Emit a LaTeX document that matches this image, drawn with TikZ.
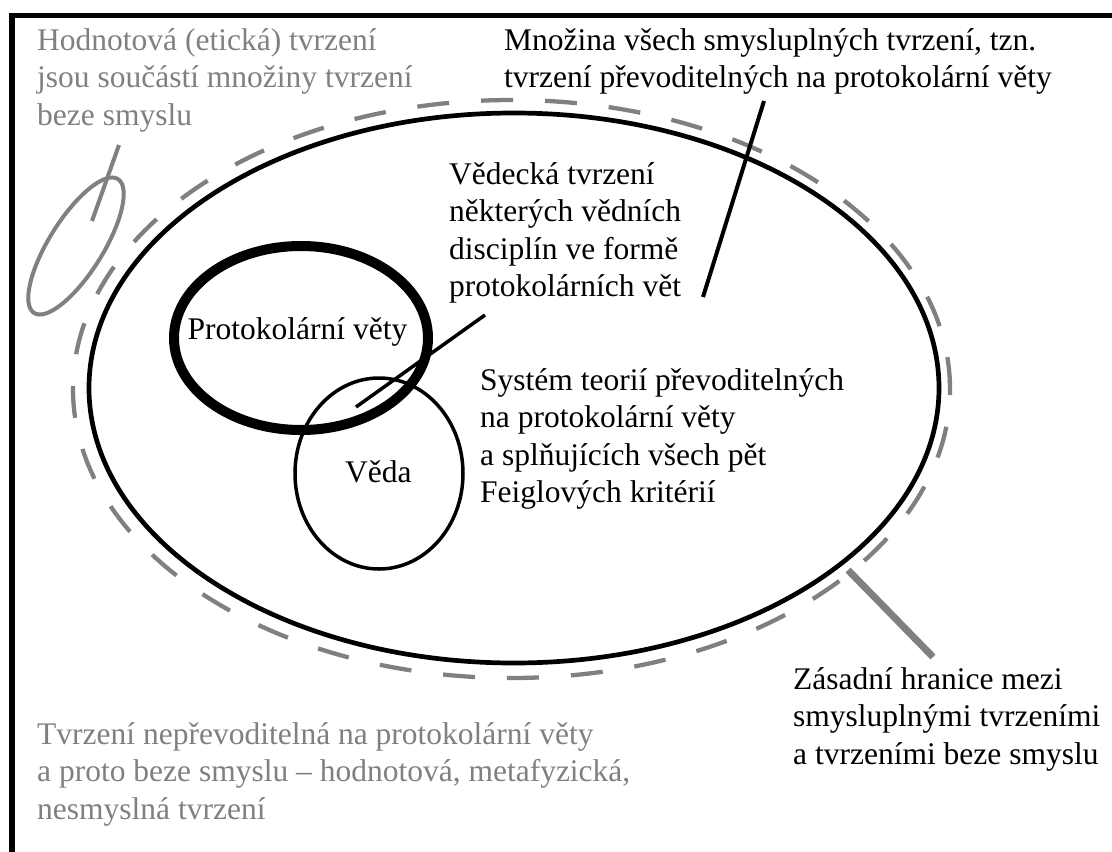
\documentclass[tikz,border=0pt]{standalone}
\usepackage{fontspec}
\setmainfont{Liberation Serif}
\usetikzlibrary{shapes.geometric}
\definecolor{pGray}{gray}{0.5}
\tikzset{
    lbl/.style={anchor=base west, inner sep=0pt, align=left, font=\fontsize{31.5}{37.5}\selectfont},
    oval/.style={ellipse, draw, inner sep=0pt},
    ptr/.style={line width=4pt}
}

\begin{document}
\begin{tikzpicture}[x=1pt,y=-1pt]
\useasboundingbox (0,0) rectangle (1112,852);
\draw[line width=5.8pt, line join=miter] (12,852) -- (12,15.5) -- (1112,15.5);
\node[oval, pGray, line width=4.3pt, dash pattern=on 32pt off 32pt, minimum width=877, minimum height=578] (hranice) at (511.5,389) {};
\node[oval, line width=4.7pt, minimum width=850, minimum height=550] (mnozina) at (514,388) {};
\node[oval, line width=10pt, minimum width=254, minimum height=184] (protokol) at (301,338) {};
\node[oval, line width=3.5pt, minimum width=168, minimum height=191] (veda) at (379,473.5) {};
\node[oval, pGray, line width=4pt, rotate=58, minimum width=158, minimum height=54] (eticka) at (76,246) {};
\node[lbl, text=pGray] (hodnLbl) at (37,125) {Hodnotová (etická) tvrzení\\jsou součástí množiny tvrzení\\beze smyslu};
\node[lbl] (mnozLbl) at (504,87.5) {Množina všech smysluplných tvrzení, tzn.\\tvrzení převoditelných na protokolární věty};
\node[lbl] (vedtLbl) at (449,296.5) {Vědecká tvrzení\\některých vědních\\disciplín ve formě\\protokolárních vět};
\node[lbl] (protLbl) at (187.5,339) {Protokolární věty};
\node[lbl] (vedaLbl) at (345,482) {Věda};
\node[lbl] (systLbl) at (480,502.5) {Systém teorií převoditelných\\na protokolární věty\\a splňujících všech pět\\Feiglových kritérií};
\node[lbl] (hranLbl) at (793,764) {Zásadní hranice mezi\\smysluplnými tvrzeními\\a tvrzeními beze smyslu};
\node[lbl, text=pGray] (neprLbl) at (37,819) {Tvrzení nepřevoditelná na protokolární věty\\a proto beze smyslu – hodnotová, metafyzická,\\nesmyslná tvrzení};
\coordinate (hodnA) at (119,145);
\coordinate (hodnB) at (92,221);
\coordinate (mnozA) at (764,101);
\coordinate (mnozB) at (703,297);
\coordinate (vedtA) at (485,315);
\coordinate (vedtB) at (356,407);
\coordinate (hranA) at (848,570);
\coordinate (hranB) at (933,657);
\draw[ptr, pGray] (hodnA) -- (hodnB);
\draw[ptr] (mnozA) -- (mnozB);
\draw[ptr, line width=3.5pt] (vedtA) -- (vedtB);
\draw[ptr, pGray, line width=7pt] (hranA) -- (hranB);
\end{tikzpicture}
\end{document}
